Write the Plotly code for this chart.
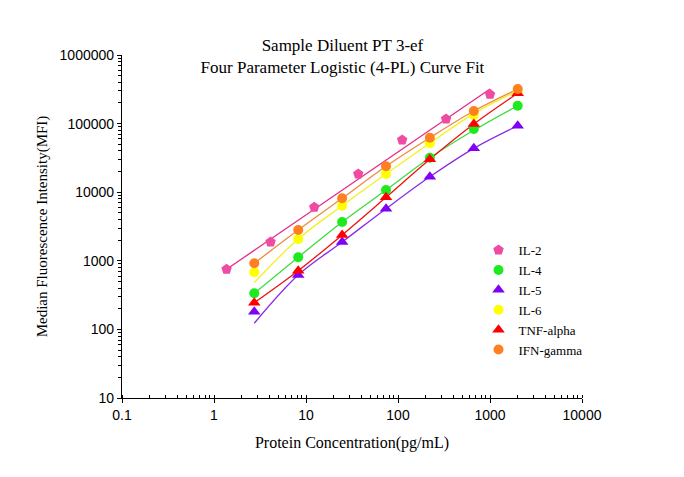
import plotly.graph_objects as go

# concentrations (pg/mL), 3-fold dilutions
conc_il2 = [1.37, 4.12, 12.3, 37.0, 111, 333, 1000]
conc = [2.74, 8.23, 24.7, 74.1, 222, 667, 2000]

# measured MFI
mfi_il2 = [752, 1880, 6030, 18400, 57700, 116700, 267000]
mfi_il4 = [336, 1125, 3680, 10760, 31800, 83400, 182300]
mfi_il5 = [181, 621, 1880, 5750, 16800, 43600, 93100]
mfi_il6 = [680, 2080, 6360, 18400, 51600, 133000, 295000]
mfi_tnf = [245, 717, 2380, 8430, 30200, 98600, 276500]
mfi_ifn = [920, 2810, 8150, 23900, 62300, 152700, 319000]

# fitted curves
fit_il2_x = [1.37, 1000]
fit_il2 = [752, 320000]
fit_il4 = [336, 1125, 3680, 10760, 31800, 80000, 182300]
fit_il5 = [123, 621, 1880, 5750, 16800, 43600, 93100]
fit_il6 = [481, 2080, 6360, 18400, 51600, 140000, 300000]
fit_tnf = [245, 717, 2380, 8430, 30200, 98600, 276500]
fit_ifn = [920, 2810, 8150, 23900, 62300, 152700, 319000]

x_ticks = [0.1, 1, 10, 100, 1000, 10000]
x_labels = ["0.1", "1", "10", "100", "1000", "10000"]
y_ticks = [10, 100, 1000, 10000, 100000, 1000000]
y_labels = ["10", "100", "1000", "10000", "100000", "1000000"]

fig = go.Figure()

series = [
    ("IL-2", conc_il2, mfi_il2, fit_il2_x, fit_il2, "#F04BA3", "#E42C88", "pentagon", 11),
    ("IL-4", conc, mfi_il4, conc, fit_il4, "#1EEB1E", "#3CDC3C", "circle", 10),
    ("IL-5", conc, mfi_il5, conc, fit_il5, "#7F00F5", "#8A2BE8", "triangle-up", 11),
    ("IL-6", conc, mfi_il6, conc, fit_il6, "#FFFF00", "#F2F020", "circle", 10),
    ("TNF-alpha", conc, mfi_tnf, conc, fit_tnf, "#FF0000", "#EE1111", "triangle-up", 11),
    ("IFN-gamma", conc, mfi_ifn, conc, fit_ifn, "#FF8020", "#F08A3A", "circle", 10),
]

# curves first so the markers sit on top
for name, xs, ys, fx, fy, mcol, lcol, sym, sz in series:
    fig.add_trace(go.Scatter(x=fx, y=fy, mode="lines", showlegend=False,
                             line=dict(color=lcol, width=1.3, shape="spline"),
                             hoverinfo="skip"))
for name, xs, ys, fx, fy, mcol, lcol, sym, sz in series:
    fig.add_trace(go.Scatter(x=xs, y=ys, mode="markers", name=name,
                             marker=dict(color=mcol, symbol=sym, size=sz,
                                         line=dict(width=0))))

fig.update_layout(
    width=684, height=477,
    paper_bgcolor="white", plot_bgcolor="white",
    margin=dict(l=114, r=110, t=47, b=87),
    title=dict(text="Sample Diluent PT 3-ef<br>Four Parameter Logistic (4-PL) Curve Fit",
               x=0.489, xref="container", xanchor="center",
               y=0.91, yref="container", yanchor="top",
               font=dict(family="Liberation Serif", size=17, color="black")),
    legend=dict(x=0.775, y=0.475, xanchor="left", yanchor="top",
                font=dict(family="Liberation Serif", size=13, color="black"),
                bgcolor="rgba(0,0,0,0)", tracegroupgap=0),
    showlegend=True,
)

fig.update_xaxes(type="log", range=[-1, 4], tickmode="array",
                 tickvals=x_ticks, ticktext=x_labels,
                 showgrid=False, zeroline=False,
                 showline=True, linecolor="black", linewidth=1.2,
                 ticks="outside", ticklen=4, tickcolor="black",
                 minor=dict(ticks="inside", ticklen=3, tickcolor="black", dtick="D1", showgrid=False),
                 tickfont=dict(family="Liberation Sans", size=14, color="black"),
                 title=dict(text="Protein Concentration(pg/mL)", standoff=14,
                            font=dict(family="Liberation Serif", size=16, color="black")))
fig.update_yaxes(type="log", range=[1, 6], tickmode="array",
                 tickvals=y_ticks, ticktext=y_labels,
                 showgrid=False, zeroline=False,
                 showline=True, linecolor="black", linewidth=1.2,
                 ticks="outside", ticklen=4, tickcolor="black",
                 minor=dict(ticks="outside", ticklen=3, tickcolor="black", dtick="D1", showgrid=False),
                 tickfont=dict(family="Liberation Sans", size=14, color="black"),
                 title=dict(text="Median Fluorescence Intensity(MFI)", standoff=8,
                            font=dict(family="Liberation Serif", size=15, color="black")))

fig.write_html("out.html")
